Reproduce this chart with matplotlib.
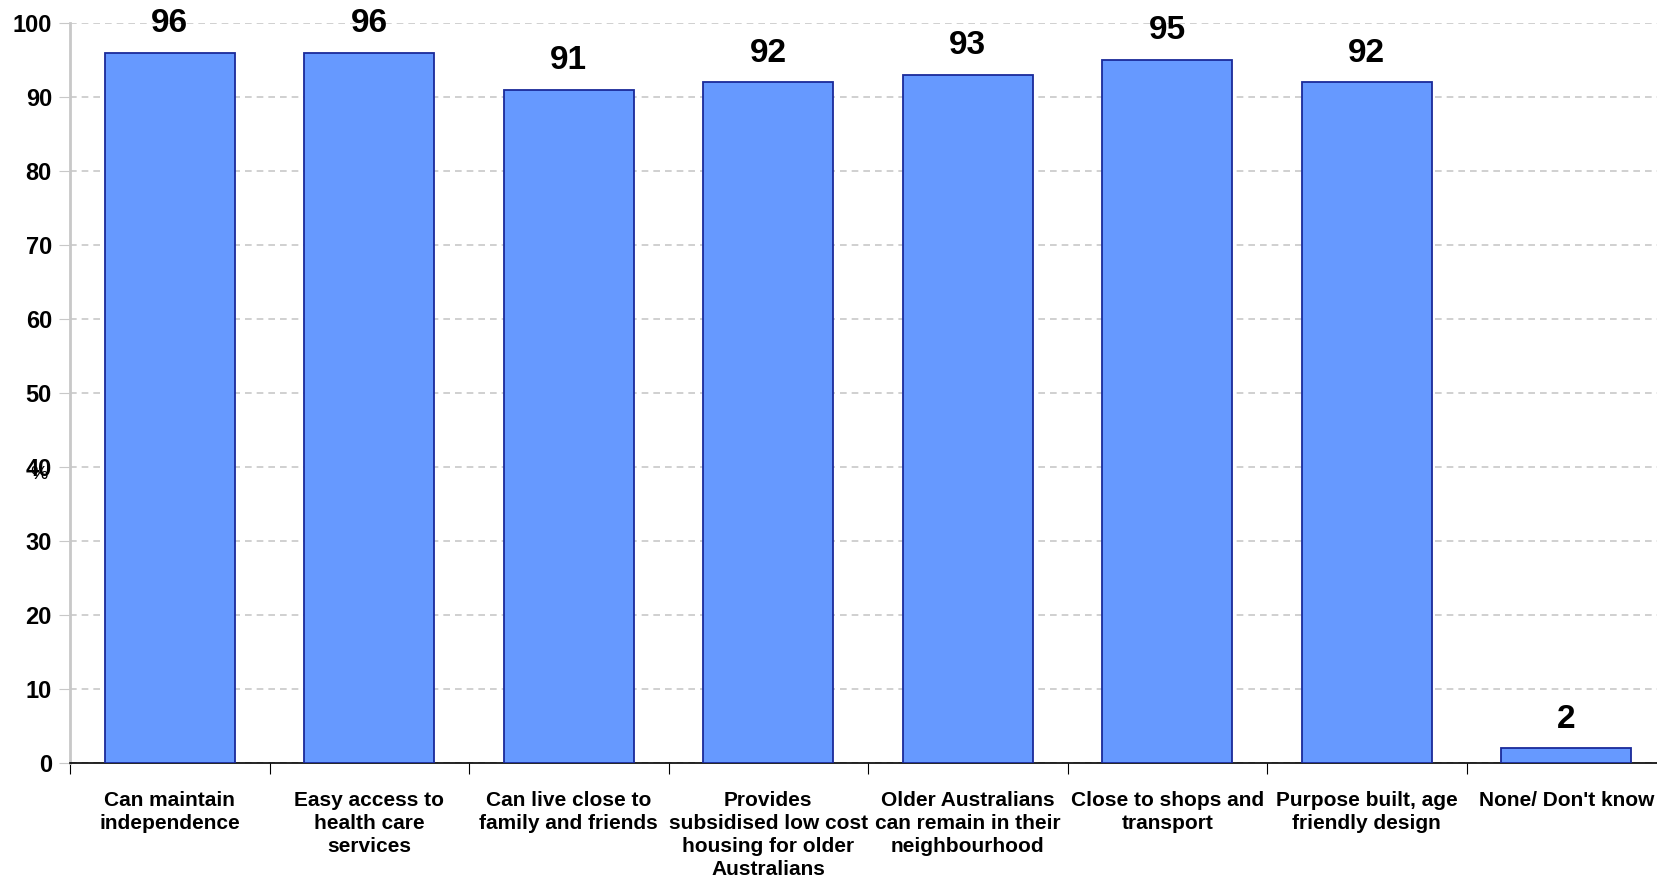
import numpy as np
import matplotlib.pyplot as plt

categories = ["Can maintain\nindependence", "Easy access to\nhealth care\nservices",
              "Can live close to\nfamily and friends", "Provides\nsubsidised low cost\nhousing for older\nAustralians",
              "Older Australians\ncan remain in their\nneighbourhood", "Close to shops and\ntransport",
              "Purpose built, age\nfriendly design", "None/ Don't know"]
values = [96, 96, 91, 92, 93, 95, 92, 2]

plt.rcParams['font.family'] = ['Liberation Sans', 'DejaVu Sans']

W, H = 1657, 881
fig = plt.figure(figsize=(W/100, H/100), dpi=100)
ax = fig.add_axes([70/W, 1-763/H, 1596/W, 740/H])

x = np.arange(len(values))
ax.bar(x, values, width=0.65, color='#6699FF', edgecolor='#1A2A9A', linewidth=1.3, zorder=3)

for xi, v in zip(x, values):
    ax.annotate(str(v), (xi, v), xytext=(0, 21), textcoords='offset points',
                ha='center', va='center', fontsize=24, fontweight='bold')

ax.set_xlim(-0.5, len(values)-0.5)
ax.set_ylim(0, 100)
ax.set_yticks(np.arange(0, 101, 10))
ax.yaxis.grid(True, linestyle=(0, (4, 3)), color='#C8C8C8', linewidth=1.2, zorder=0)
ax.tick_params(axis='y', length=8, color='#C8C8C8', labelsize=17, pad=5)
for lab in ax.get_yticklabels():
    lab.set_fontweight('bold')

ax.set_xticks(np.arange(len(values)+1) - 0.5)
ax.set_xticklabels([])
ax.set_xticks(x, minor=True)
ax.set_xticklabels(categories, minor=True, fontsize=15, fontweight='bold', linespacing=1.28)
ax.tick_params(axis='x', which='major', length=8, color='black')
ax.tick_params(axis='x', which='minor', length=0, pad=20)

for s in ['top', 'right']:
    ax.spines[s].set_visible(False)
ax.spines['left'].set_color('#C8C8C8')
ax.spines['left'].set_linewidth(2)
ax.spines['bottom'].set_color('black')
ax.spines['bottom'].set_linewidth(1.2)

fig.text(39/W, 1-475/H, '%', fontsize=14, ha='center', va='center')

plt.savefig('out.png', dpi=100)
